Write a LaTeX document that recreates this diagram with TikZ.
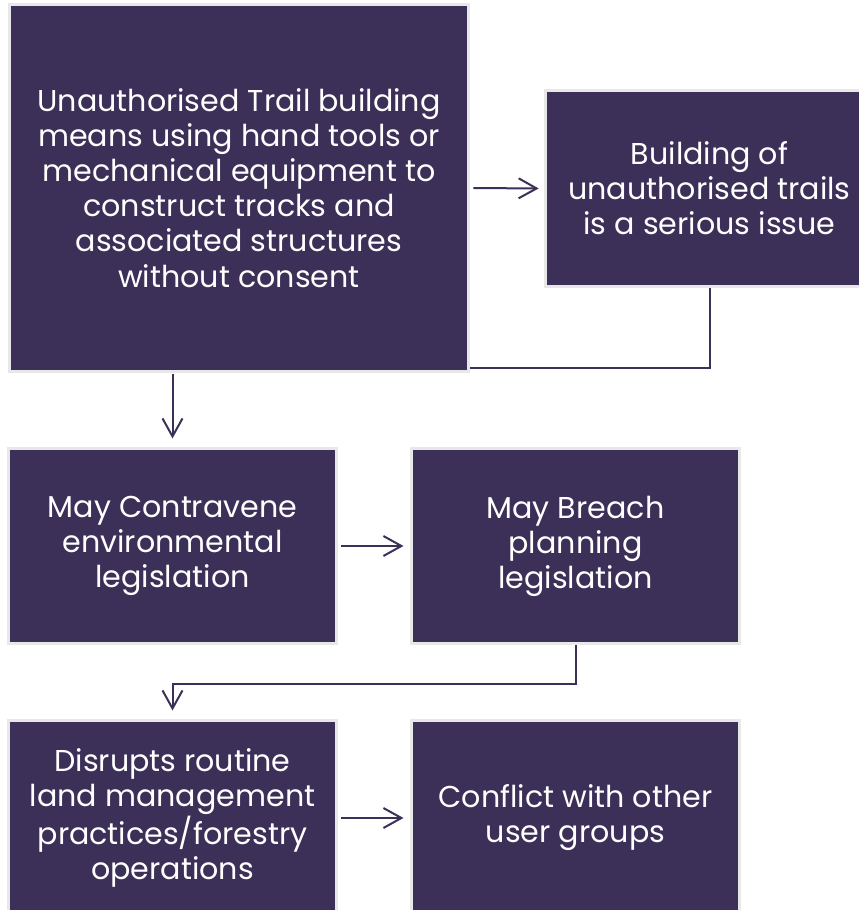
\documentclass[tikz,border=0pt]{standalone}
\usepackage{fontspec}
\setmainfont{Poppins}
\usetikzlibrary{arrows.meta}
\definecolor{plum}{RGB}{60,48,88}
\definecolor{rim}{RGB}{232,232,232}

\begin{document}
\begin{tikzpicture}[x=0.75pt,y=-0.75pt,every text node part/.style={align=center}]
  \tikzstyle{stepbox}=[rectangle,fill=plum,draw=rim,line width=2.25pt,
    text=white,inner sep=0pt,font=\fontsize{22.6}{26.3}\selectfont,
    minimum width=246pt,minimum height=146.25pt]
  \tikzstyle{link}=[draw=plum,line width=1.5pt]
  \tikzstyle{flow}=[link,-{Straight Barb[length=13.5pt,width=15pt]}]

  \clip (0,0) rectangle (859,910);

  \node [stepbox,minimum width=344.25pt,minimum height=275.25pt] (trail) at (239,188) {
    Unauthorised Trail building\\
    means using hand tools or\\
    mechanical equipment to\\
    construct tracks and\\
    associated structures\\
    without consent
  };
  \node [stepbox,minimum height=147pt] (issue) at (709.5,188.5) {
    Building of\\
    unauthorised trails\\
    is a serious issue
  };
  \node [stepbox] (enviro) at (172.5,546) {
    May Contravene\\
    environmental\\
    legislation
  };
  \node [stepbox] (planning) at (575.5,546) {
    May Breach\\
    planning\\
    legislation
  };
  \node [stepbox] (landuse) at (172.5,818) {
    Disrupts routine\\
    land management\\
    practices/forestry\\
    operations
  };
  \node [stepbox] (conflict) at (575.5,818) {
    Conflict with other\\
    user groups
  };

  \draw [flow,shorten <=2.6pt,shorten >=4pt] (trail.east) -- (issue.west);
  \draw [link] (issue.south) |- ([yshift=3.4pt]trail.south east);
  \draw [flow,shorten <=0.5pt,shorten >=6.4pt] (trail.south -| enviro.north) -- (enviro.north);
  \draw [flow,shorten <=2.6pt,shorten >=4.9pt] (enviro.east) -- (planning.west);
  \draw [flow,shorten >=6.4pt] (planning.south) -- ++(0,38.5) -| (landuse.north);
  \draw [flow,shorten <=2.6pt,shorten >=4.9pt] (landuse.east) -- (conflict.west);
\end{tikzpicture}
\end{document}
